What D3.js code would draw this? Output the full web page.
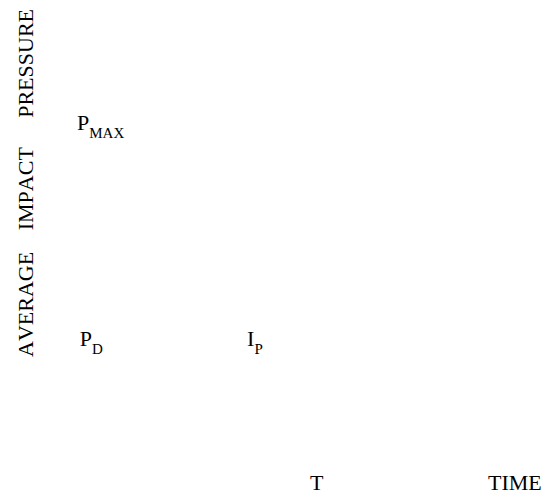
<!DOCTYPE html>
<html>
<head>
<meta charset="utf-8">
<script src="https://cdn.jsdelivr.net/npm/d3@7"></script>
<style>
html,body{margin:0;padding:0;background:#fff;}
svg{display:block;}
text{font-kerning:none;}
</style>
</head>
<body>
<svg id="chart" width="548" height="499"></svg>
<script>
// Conceptual pressure–time diagram: only labels are drawn
const labelMain = ["P", "P", "I", "T", "TIME"];
const labelSub  = ["MAX", "D", "P", "", ""];
const labelTime = [0, 0.6, 36.5, 50, 88.2];     // time units (0..100)
const labelPressure = [1.0, 0.4, 0.4, 0, 0];    // relative pressure (0..1)
const axisWords = ["AVERAGE", "IMPACT", "PRESSURE"];
const axisWordPos = [0.0, 0.355, 0.67];          // position along the pressure axis

const FONT = "'Liberation Serif', 'Times New Roman', Times, serif";
const svg = d3.select("#chart");
const x = d3.scaleLinear().domain([0, 100]).range([77, 543]);
const y = d3.scaleLinear().domain([0, 1]).range([490, 130]);
const yAxisLen = d3.scaleLinear().domain([0, 1]).range([357, 0]);

const labels = labelMain.map((m, i) => ({m, s: labelSub[i], t: labelTime[i], p: labelPressure[i]}));

const g = svg.selectAll("text.lbl").data(labels).enter().append("text")
  .attr("class", "lbl")
  .attr("x", d => x(d.t))
  .attr("y", d => y(d.p))
  .style("font-family", FONT)
  .style("font-size", "22px")
  .attr("fill", "#000");
g.append("tspan").text(d => d.m);
g.filter(d => d.s).append("tspan")
  .style("font-size", "15px")
  .attr("dy", 8)
  .text(d => d.s);

svg.selectAll("text.ax").data(axisWords).enter().append("text")
  .attr("class", "ax")
  .style("font-family", FONT)
  .style("font-size", "22px")
  .attr("fill", "#000")
  .attr("transform", (d, i) => `translate(33,${yAxisLen(axisWordPos[i])}) rotate(-90)`)
  .text(d => d);
</script>
</body>
</html>
